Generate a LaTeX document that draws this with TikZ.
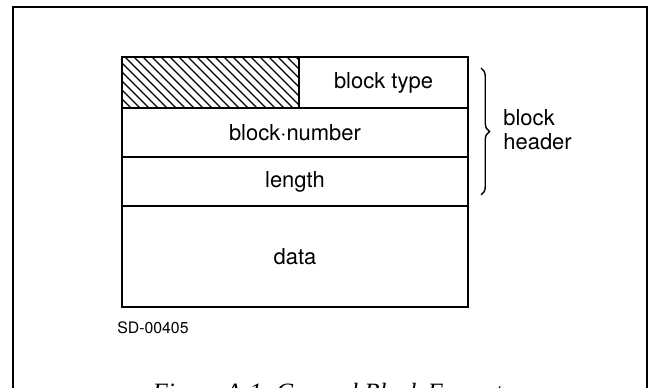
\documentclass[tikz,border=0pt]{standalone}
\usepackage{fontspec}
\setmainfont{TeX Gyre Heros}
\newfontfamily\capfont{Liberation Serif}
\usetikzlibrary{decorations.pathreplacing}

\begin{document}
\begin{tikzpicture}[
  fld/.style={rectangle,draw,line width=1.4pt,inner sep=0pt,
              font=\fontsize{12.5}{13.7}\selectfont},
  lbl/.style={inner sep=0pt,font=\fontsize{12.5}{13.7}\selectfont,align=left},
  hatch/.style={line width=0.75pt},
  frm/.style={line width=1pt},
  brc/.style={line width=0.8pt,decorate,decoration={brace,amplitude=0.17cm}}
]
\path[use as bounding box,clip] (0,0) rectangle (13,7.74);

% Page frame
\draw[frm] (0.26,-0.4) -- (0.26,7.6) -- (12.94,7.6) -- (12.94,-0.4);

% ---- Block fields ------------------------------------------
\node[fld,minimum width=3.54cm,minimum height=1.02cm,
  path picture={
    \foreach \i in {0,...,25}
      \draw[hatch] ([xshift={\i*0.18cm-1.02cm}]path picture bounding box.north west)
        -- ++(1.02,-1.02);
  }] (pad) at (4.21,6.09) {};
\node[fld,minimum width=3.38cm,minimum height=1.02cm]
  (typ) at (7.67,6.09) {block type};
\node[fld,minimum width=6.92cm,minimum height=0.98cm]
  (num) at (5.90,5.09) {block·number};
\node[fld,minimum width=6.92cm,minimum height=0.98cm]
  (len) at (5.90,4.11) {length};
\node[fld,minimum width=6.92cm,minimum height=2.02cm]
  (dat) at (5.90,2.61) {data};

% ---- Header brace ------------------------------------------
\coordinate (bt) at (9.62,6.38);
\coordinate (bb) at (9.62,3.84);
\draw[brc] (bt) -- (bb);
\node[lbl,anchor=west] (hdr) at (10.06,5.14) {block\\header};

% ---- Drawing number and caption ----------------------------
\node[anchor=west,inner sep=0pt,font=\fontsize{9}{10}\selectfont]
  (sd) at (2.34,1.18) {SD-00405};
\node[anchor=base,inner sep=0pt,font=\capfont\itshape\fontsize{14.2}{16}\selectfont]
  (cap) at (6.55,-0.27) {Figure A-1. General Block Format};

\end{tikzpicture}
\end{document}
